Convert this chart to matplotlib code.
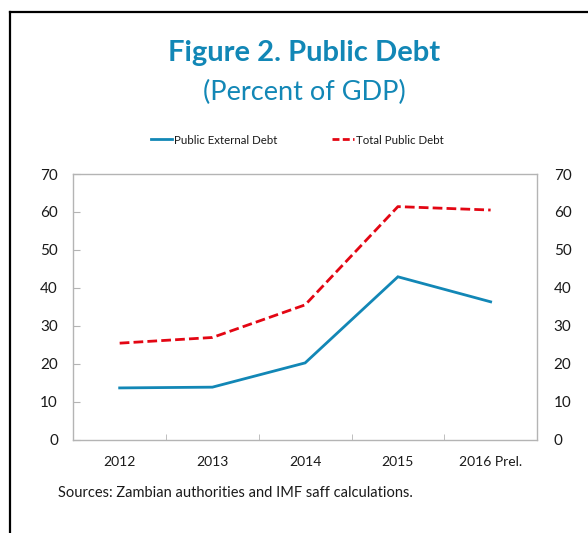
import matplotlib
matplotlib.use("Agg")
import matplotlib.pyplot as plt
from matplotlib.lines import Line2D
from matplotlib.ticker import MultipleLocator, FixedLocator

plt.rcParams['font.family'] = ['Lato', 'DejaVu Sans']

years = ['2012', '2013', '2014', '2015', '2016 Prel.']
external_debt = [13.6, 13.8, 20.2, 42.9, 36.3]
total_debt = [25.4, 26.9, 35.5, 61.4, 60.5]

blue = '#1287b6'
red = '#e30613'
spine_grey = '#b4b4b4'
text_col = '#1a1a1a'

fig = plt.figure(figsize=(5.88, 5.33), dpi=100)

# black frame on the left and top edges
fig.add_artist(Line2D([9.5 / 588, 9.5 / 588], [0, 1 - 12 / 533], color='black', lw=1.6))
fig.add_artist(Line2D([9.5 / 588, 1], [1 - 12 / 533, 1 - 12 / 533], color='black', lw=1.6))

ax = fig.add_axes([73.3 / 588, 1 - 439.5 / 533, (537 - 73.3) / 588, (439.5 - 174) / 533])
x = range(len(years))
ax.plot(x, external_debt, color=blue, lw=2.0, solid_joinstyle='miter')
ax.plot(x, total_debt, color=red, lw=2.0, linestyle=(0, (3.5, 1.5)))

ax.set_xlim(-0.5, len(years) - 0.5)
ax.set_ylim(0, 70)
ax.yaxis.set_major_locator(MultipleLocator(10))
ax.set_xticks(list(x))
ax.set_xticklabels(years)
ax.xaxis.set_minor_locator(FixedLocator([0.5, 1.5, 2.5, 3.5]))

for s in ax.spines.values():
    s.set_color(spine_grey)
    s.set_linewidth(1.0)

ax.tick_params(axis='x', which='major', length=0, pad=12, labelsize=10, colors=text_col)
ax.tick_params(axis='x', which='minor', direction='in', length=4, color=spine_grey)
ax.tick_params(axis='y', direction='in', length=5, color=spine_grey, pad=11,
               labelsize=11, labelcolor=text_col, left=True, right=True,
               labelleft=True, labelright=False)

# same scale repeated on the right side
ax2 = ax.twinx()
ax2.set_ylim(ax.get_ylim())
ax2.yaxis.set_major_locator(MultipleLocator(10))
ax2.tick_params(axis='y', direction='in', length=0, pad=12, labelsize=11, labelcolor=text_col)
for s in ax2.spines.values():
    s.set_visible(False)

fig.text(304 / 588, 1 - 53 / 533, 'Figure 2. Public Debt', ha='center', va='center',
         fontsize=21, fontweight='bold', color=blue)
fig.text(304 / 588, 1 - 92 / 533, '(Percent of GDP)', ha='center', va='center',
         fontsize=19.5, color=blue)

handles = [Line2D([], [], color=blue, lw=2.0),
           Line2D([], [], color=red, lw=2.0, linestyle=(0, (2.5, 1.2)))]
fig.legend(handles, ['Public External Debt', 'Total Public Debt'], loc='center',
           bbox_to_anchor=(297 / 588, 1 - 140 / 533), ncol=2, frameon=False,
           fontsize=8.3, handlelength=1.85, handletextpad=0.15, columnspacing=4.8,
           labelcolor=text_col)

fig.text(58 / 588, 1 - 493 / 533, 'Sources: Zambian authorities and IMF saff calculations.',
         ha='left', va='center', fontsize=10.5, color=text_col)

fig.savefig('out.png', dpi=100)
